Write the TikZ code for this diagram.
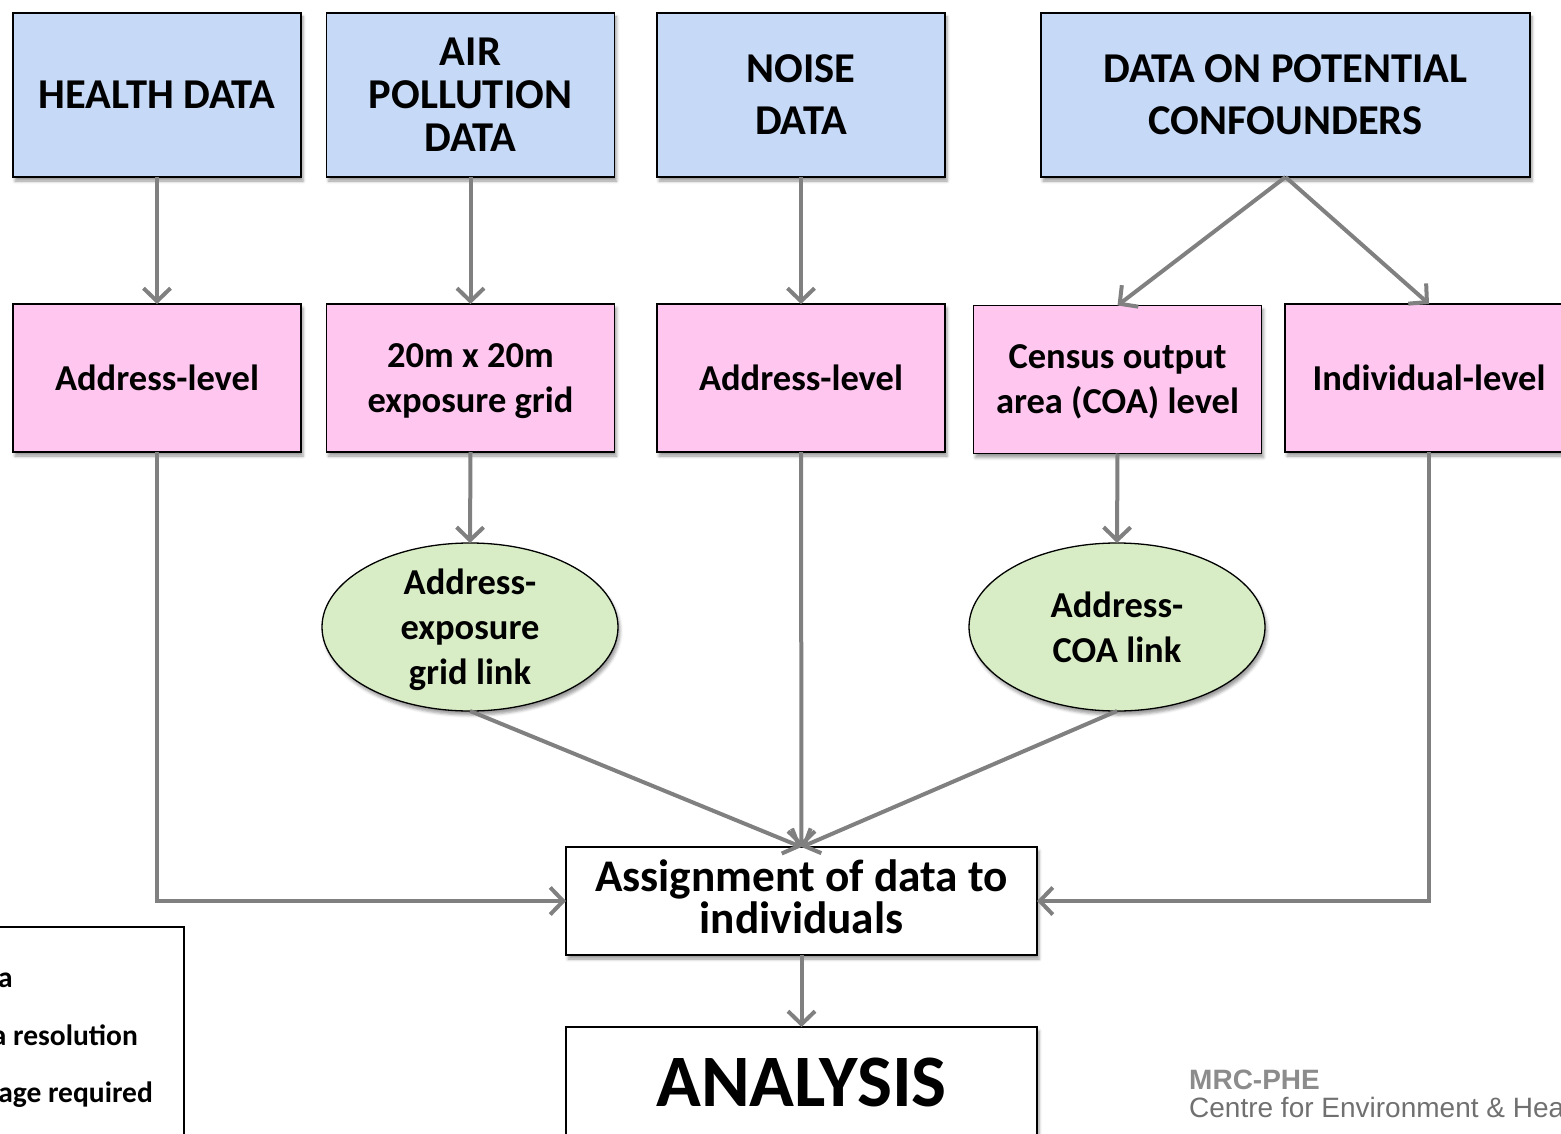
\documentclass[tikz,border=0pt]{standalone}
\usepackage{fontspec}
\setmainfont{Carlito}
\newfontfamily\arialfont{Liberation Sans}
\usetikzlibrary{arrows.meta,shapes.geometric,shadows.blur}
\definecolor{boxblue}{RGB}{198,217,247}
\definecolor{boxpink}{RGB}{255,198,240}
\definecolor{ellgreen}{RGB}{216,237,197}
\definecolor{arrgray}{RGB}{128,128,128}
\definecolor{logogray}{RGB}{140,140,140}
\definecolor{logograyb}{RGB}{112,112,112}
\begin{document}
\begin{tikzpicture}[x=1pt,y=-1pt,
  boxbase/.style={draw=black, line width=1.3pt, inner sep=0pt, outer sep=0pt, align=center,
    blur shadow={shadow xshift=2pt, shadow yshift=-4pt, shadow opacity=40, shadow blur radius=3pt}},
  srcbox/.style={boxbase, fill=boxblue, minimum width=288pt, minimum height=164pt,
    font={\fontsize{42.5}{52}\selectfont\bfseries}},
  lvlbox/.style={boxbase, fill=boxpink, minimum width=288pt, minimum height=148pt,
    font={\fontsize{36.5}{45}\selectfont\bfseries}},
  linkell/.style={boxbase, ellipse, fill=ellgreen, minimum width=296pt, minimum height=168pt,
    font={\fontsize{36.5}{45}\selectfont\bfseries}},
  procbox/.style={boxbase, fill=white, minimum width=471pt, minimum height=108pt,
    font={\fontsize{45.3}{42}\selectfont\bfseries}},
  legtext/.style={anchor=base east, inner sep=0pt, font={\fontsize{29.5}{30}\selectfont\bfseries}},
  conn/.style={draw=arrgray, line width=4pt, -{Straight Barb[length=13pt,width=27pt]}}
]
\useasboundingbox (0,0) rectangle (1561,1134);
\clip (0,0) rectangle (1561,1134);

% source data
\node[srcbox] (health) at (157,95) {HEALTH DATA};
\node[srcbox, font={\fontsize{42.5}{43}\selectfont\bfseries}] (air) at (470.5,95) {AIR\\POLLUTION\\DATA};
\node[srcbox] (noise) at (801,95) {NOISE\\DATA};
\node[srcbox, minimum width=489pt, text depth=-2pt] (conf) at (1285.5,95) {DATA ON POTENTIAL\\CONFOUNDERS};

% resolution
\node[lvlbox] (hlev) at (157,378) {Address-level};
\node[lvlbox, text depth=0pt] (grid) at (470.5,378) {20m x 20m\\exposure grid};
\node[lvlbox] (nlev) at (801,378) {Address-level};
\node[lvlbox, text depth=0pt] (coa) at (1117.5,379.5) {Census output\\area (COA) level};
\node[lvlbox] (ind) at (1429,378) {Individual-level};

% linkage
\node[linkell, text depth=0pt] (gridlink) at (470,627) {Address-\\exposure\\grid link};
\node[linkell, text depth=-3pt] (coalink) at (1117,627) {Address-\\COA link};

% assignment and analysis
\node[procbox, text depth=8pt] (assign) at (801.5,901) {Assignment of data to\\individuals};
\node[procbox, minimum height=110pt, font={\fontsize{74}{80}\selectfont\bfseries}] (analysis) at (801.5,1082) {ANALYSIS};

% connectors
\draw[conn] (health.south) -- (hlev.north);
\draw[conn] (air.south) -- (grid.north);
\draw[conn] (noise.south) -- (nlev.north);
\draw[conn] (conf.south) -- (coa.north);
\draw[conn] (conf.south) -- (ind.north);
\draw[conn] (grid.south) -- (gridlink.north);
\draw[conn] (coa.south) -- (coalink.north);
\draw[conn] (hlev.south) |- (assign.west);
\draw[conn] (ind.south) |- (assign.east);
\draw[conn] (nlev.south) -- (assign.north);
\draw[conn] (gridlink.south) -- (assign.north);
\draw[conn] (coalink.south) -- (assign.north);
\draw[conn] (assign.south) -- (analysis.north);

% legend (cropped at the left edge, as in the reference)
\node[draw=black, line width=1.3pt, fill=white, inner sep=0pt, minimum width=214pt, minimum height=233pt] (legend) at (77,1043.5) {};
\node[legtext] (leg1) at (13,987) {Data};
\node[legtext] (leg2) at (138,1045) {Data resolution};
\node[legtext] (leg3) at (153,1102) {Data linkage required};

% logo text
\node[anchor=base west, inner sep=0pt, text=logogray, font={\arialfont\bfseries\fontsize{28}{30}\selectfont}] (mrc) at (1189,1089) {MRC-PHE};
\node[anchor=base west, inner sep=0pt, text=logograyb, font={\arialfont\fontsize{28}{30}\selectfont}] (centre) at (1189,1117) {Centre for Environment \& Health};
\end{tikzpicture}
\end{document}
